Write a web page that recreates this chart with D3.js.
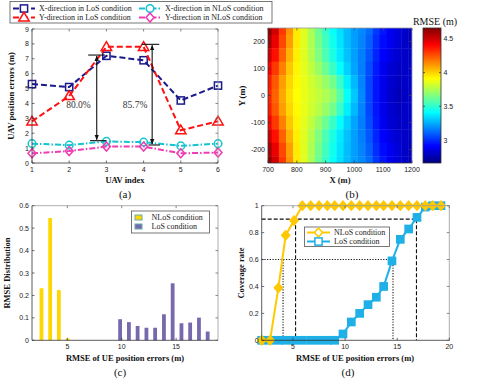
<!DOCTYPE html>
<html>
<head>
<meta charset="utf-8">
<script src="https://cdn.jsdelivr.net/npm/d3@7.9.0/dist/d3.min.js"></script>
<style>
  body { margin: 0; background: #fff; }
  svg { display: block; }
</style>
</head>
<body>
<svg id="fig" width="477" height="381"></svg>
<script>
// ---- (a) UAV position errors per UAV ----
const uavIndex = [1, 2, 3, 4, 5, 6];
const xLos = [5.3, 5.1, 7.2, 6.9, 4.2, 5.2];
const yLos = [2.8, 4.5, 7.8, 7.8, 2.2, 2.8];
const xNlos = [1.3, 1.2, 1.45, 1.4, 1.15, 1.3];
const yNlos = [0.65, 0.8, 1.1, 1.1, 0.65, 0.7];
const gapLabels = ['80.0%', '85.7%'];

// ---- (b) RMSE map over the area ----
const heatX = [700, 725, 750, 775, 800, 825, 850, 875, 900, 925, 950, 975, 1000, 1025, 1050, 1075, 1100, 1125, 1150, 1175, 1200];
const heatY = [250, 200, 150, 100, 50, 0, -50, -100, -150, -200, -250];
const heatRmse = [
  [4.62, 4.50, 4.30, 4.12, 3.95, 3.85, 3.75, 3.62, 3.52, 3.42, 3.35, 3.28, 3.22, 3.18, 3.12, 3.02, 2.95, 2.88, 2.84, 2.80, 2.78],
  [4.58, 4.45, 4.27, 4.10, 3.95, 3.85, 3.75, 3.64, 3.54, 3.44, 3.36, 3.28, 3.22, 3.17, 3.10, 3.00, 2.93, 2.88, 2.84, 2.80, 2.78],
  [4.50, 4.38, 4.22, 4.06, 3.94, 3.85, 3.76, 3.66, 3.56, 3.46, 3.37, 3.29, 3.22, 3.16, 3.08, 2.98, 2.91, 2.86, 2.82, 2.80, 2.80],
  [4.42, 4.30, 4.16, 4.02, 3.93, 3.86, 3.79, 3.71, 3.62, 3.52, 3.42, 3.32, 3.23, 3.16, 3.06, 2.96, 2.88, 2.83, 2.80, 2.80, 2.82],
  [4.36, 4.24, 4.10, 3.99, 3.92, 3.87, 3.82, 3.77, 3.71, 3.64, 3.52, 3.38, 3.27, 3.17, 3.05, 2.95, 2.87, 2.82, 2.79, 2.80, 2.82],
  [4.34, 4.22, 4.08, 3.97, 3.91, 3.87, 3.83, 3.79, 3.75, 3.70, 3.58, 3.42, 3.30, 3.18, 3.05, 2.95, 2.87, 2.81, 2.78, 2.79, 2.81],
  [4.36, 4.24, 4.10, 3.99, 3.92, 3.87, 3.82, 3.77, 3.71, 3.64, 3.52, 3.38, 3.27, 3.17, 3.05, 2.95, 2.87, 2.82, 2.79, 2.80, 2.82],
  [4.42, 4.30, 4.16, 4.02, 3.93, 3.86, 3.79, 3.71, 3.62, 3.52, 3.42, 3.32, 3.23, 3.16, 3.06, 2.96, 2.88, 2.83, 2.80, 2.80, 2.82],
  [4.50, 4.38, 4.22, 4.06, 3.94, 3.85, 3.76, 3.66, 3.56, 3.46, 3.37, 3.29, 3.22, 3.16, 3.08, 2.98, 2.91, 2.86, 2.82, 2.80, 2.80],
  [4.58, 4.45, 4.27, 4.10, 3.95, 3.85, 3.75, 3.64, 3.54, 3.44, 3.36, 3.28, 3.22, 3.17, 3.10, 3.00, 2.93, 2.88, 2.84, 2.80, 2.78],
  [4.62, 4.50, 4.30, 4.12, 3.95, 3.85, 3.75, 3.62, 3.52, 3.42, 3.35, 3.28, 3.22, 3.18, 3.12, 3.02, 2.95, 2.88, 2.84, 2.80, 2.78]
];
const cbTicks = [3, 3.5, 4, 4.5];

// ---- (c) RMSE distribution ----
const nlosBins = [2.62, 3.42, 4.22, 5.02];
const nlosDist = [0.232, 0.545, 0.224, 0.008];
const losBins = [9.85, 10.66, 11.46, 12.27, 13.07, 13.88, 14.68, 15.49, 16.29, 17.1, 17.9];
const losDist = [0.094, 0.081, 0.064, 0.056, 0.056, 0.116, 0.254, 0.076, 0.079, 0.101, 0.039];

// ---- (d) coverage rate ----
const coverX = [2.0, 2.8, 3.6, 4.3, 5.1, 5.9, 6.7, 7.5, 8.3, 9.0, 9.8, 10.6, 11.4, 12.2, 13.0, 13.7, 14.5, 15.3, 16.1, 16.9, 17.7, 18.4, 19.2];
const coverNlos = [0, 0, 0.39, 0.78, 0.89, 1, 1, 1, 1, 1, 1, 1, 1, 1, 1, 1, 1, 1, 1, 1, 1, 1, 1];
const coverLos = [0, 0, 0, 0, 0, 0, 0, 0, 0, 0, 0.047, 0.136, 0.2, 0.265, 0.32, 0.4, 0.59, 0.75, 0.827, 0.913, 0.99, 1, 1];
const guide90 = [5.25, 16.85];
const guide60 = [4.05, 14.6];

const svg = d3.select('#fig');
const SANS = 'Liberation Sans, Arial, sans-serif';
const SERIF = 'Liberation Serif, Times New Roman, serif';

// matlab-like box with inward ticks on all sides
function frame(g, x, y, xt, yt, fmtX, fmtY) {
  const [x0, x1] = x.range();
  const [y0, y1] = y.range();
  const ax = g.append('g');
  ax.append('line').attr('x1', x0).attr('x2', x1).attr('y1', y1).attr('y2', y1).attr('stroke', '#999').attr('stroke-width', 0.8);
  ax.append('line').attr('x1', x1).attr('x2', x1).attr('y1', y0).attr('y2', y1).attr('stroke', '#999').attr('stroke-width', 0.8);
  ax.append('line').attr('x1', x0).attr('x2', x1).attr('y1', y0).attr('y2', y0).attr('stroke', '#333').attr('stroke-width', 0.8);
  ax.append('line').attr('x1', x0).attr('x2', x0).attr('y1', y0).attr('y2', y1).attr('stroke', '#333').attr('stroke-width', 0.8);
  xt.forEach(v => {
    const px = x(v);
    ax.append('line').attr('x1', px).attr('x2', px).attr('y1', y0).attr('y2', y0 - 2.5).attr('stroke', '#333').attr('stroke-width', 0.7);
    ax.append('line').attr('x1', px).attr('x2', px).attr('y1', y1).attr('y2', y1 + 2.5).attr('stroke', '#555').attr('stroke-width', 0.7);
    ax.append('text').attr('x', px).attr('y', y0 + 9).attr('text-anchor', 'middle')
      .attr('font-family', SANS).attr('font-size', 7).attr('fill', '#222').text(fmtX(v));
  });
  yt.forEach(v => {
    const py = y(v);
    ax.append('line').attr('x1', x0).attr('x2', x0 + 2.5).attr('y1', py).attr('y2', py).attr('stroke', '#333').attr('stroke-width', 0.7);
    ax.append('line').attr('x1', x1).attr('x2', x1 - 2.5).attr('y1', py).attr('y2', py).attr('stroke', '#555').attr('stroke-width', 0.7);
    ax.append('text').attr('x', x0 - 3).attr('y', py + 2.5).attr('text-anchor', 'end')
      .attr('font-family', SANS).attr('font-size', 7).attr('fill', '#222').text(fmtY(v));
  });
}

function label(txt, x, y, size, bold, rotate) {
  const t = svg.append('text').attr('font-family', SERIF).attr('font-size', size)
    .attr('font-weight', bold ? 'bold' : 'normal').attr('fill', '#111').attr('text-anchor', 'middle').text(txt);
  if (rotate) t.attr('transform', `translate(${x},${y}) rotate(-90)`);
  else t.attr('x', x).attr('y', y);
  return t;
}

// marker shapes
function marker(g, kind, cx, cy, color, fill) {
  const f = fill || 'none';
  if (kind === 'square') {
    g.append('rect').attr('x', cx - 3.6).attr('y', cy - 3.6).attr('width', 7.2).attr('height', 7.2)
      .attr('fill', f).attr('stroke', color).attr('stroke-width', 1.5);
  } else if (kind === 'triangle') {
    g.append('path').attr('d', `M${cx},${cy - 5.2}L${cx + 5.2},${cy + 3.6}L${cx - 5.2},${cy + 3.6}Z`)
      .attr('fill', f).attr('stroke', color).attr('stroke-width', 1.5);
  } else if (kind === 'circle') {
    g.append('circle').attr('cx', cx).attr('cy', cy).attr('r', 3.8)
      .attr('fill', f).attr('stroke', color).attr('stroke-width', 1.5);
  } else if (kind === 'diamond') {
    g.append('path').attr('d', `M${cx},${cy - 4.5}L${cx + 4},${cy}L${cx},${cy + 4.5}L${cx - 4},${cy}Z`)
      .attr('fill', f).attr('stroke', color).attr('stroke-width', 1.5);
  }
}

// ================= panel (a) =================
{
  const x = d3.scaleLinear([1, 6], [32, 218]);
  const y = d3.scaleLinear([0, 9], [163, 29]);
  const g = svg.append('g');

  const series = [
    { vals: xLos, color: '#1a1a8c', kind: 'square', dash: '6,3' },
    { vals: yLos, color: '#ff1010', kind: 'triangle', dash: '6,3' },
    { vals: xNlos, color: '#14c4d0', kind: 'circle', dash: '6,2,1.5,2' },
    { vals: yNlos, color: '#f03cb4', kind: 'diamond', dash: '6,2,1.5,2' }
  ];
  const line = d3.line().x((d, i) => x(uavIndex[i])).y(d => y(d));
  series.forEach(s => {
    g.append('path').attr('d', line(s.vals)).attr('fill', 'none').attr('stroke', s.color)
      .attr('stroke-width', 2).attr('stroke-dasharray', s.dash);
    s.vals.forEach((v, i) => marker(g, s.kind, x(uavIndex[i]), y(v), s.color));
  });

  // gap arrows between LoS and NLoS
  svg.append('defs').html(
    '<marker id="ah" viewBox="0 0 10 10" refX="9" refY="5" markerWidth="5" markerHeight="7" orient="auto-start-reverse">' +
    '<path d="M0,1L10,5L0,9Z" fill="#111"/></marker>');
  const arrows = [
    { at: 2.74, top: 7.25, bot: 1.5, capTop: [2.51, 2.96], capBot: [2.56, 3.0], lx: 2.25 },
    { at: 4.23, top: 7.97, bot: 1.21, capTop: [3.95, 4.42], capBot: [4.13, 4.44], lx: 3.77 }
  ];
  arrows.forEach((a, i) => {
    g.append('line').attr('x1', x(a.at)).attr('x2', x(a.at)).attr('y1', y(a.top) + 1).attr('y2', y(a.bot) - 1)
      .attr('stroke', '#111').attr('stroke-width', 1.1)
      .attr('marker-start', 'url(#ah)').attr('marker-end', 'url(#ah)');
    g.append('line').attr('x1', x(a.capTop[0])).attr('x2', x(a.capTop[1])).attr('y1', y(a.top)).attr('y2', y(a.top))
      .attr('stroke', '#111').attr('stroke-width', 1.1);
    g.append('line').attr('x1', x(a.capBot[0])).attr('x2', x(a.capBot[1])).attr('y1', y(a.bot)).attr('y2', y(a.bot))
      .attr('stroke', '#111').attr('stroke-width', 1.1);
    g.append('text').attr('x', x(a.lx)).attr('y', y(3.7)).attr('text-anchor', 'middle')
      .attr('font-family', SERIF).attr('font-size', 9.5).attr('fill', '#333').text(gapLabels[i]);
  });

  frame(g, x, y, uavIndex, d3.range(0, 10), d => d, d => d);

  // legend
  const lg = svg.append('g');
  lg.append('rect').attr('x', 10).attr('y', 1.5).attr('width', 262).attr('height', 21.5)
    .attr('fill', '#fff').attr('stroke', '#555').attr('stroke-width', 0.8);
  const items = [
    { s: series[0], text: 'X-direction in LoS condition', lx: 13, ly: 8.5 },
    { s: series[1], text: 'Y-direction in LoS condition', lx: 13, ly: 17.5 },
    { s: series[2], text: 'X-direction in NLoS condition', lx: 139, ly: 8.5 },
    { s: series[3], text: 'Y-direction in NLoS condition', lx: 139, ly: 17.5 }
  ];
  items.forEach(it => {
    lg.append('line').attr('x1', it.lx).attr('x2', it.lx + 22).attr('y1', it.ly).attr('y2', it.ly)
      .attr('stroke', it.s.color).attr('stroke-width', 1.8).attr('stroke-dasharray', it.s.dash);
    marker(lg, it.s.kind, it.lx + 11, it.ly, it.s.color, '#fff');
    lg.append('text').attr('x', it.lx + 26).attr('y', it.ly + 2.8).attr('font-family', SERIF)
      .attr('font-size', 8).attr('fill', '#222').text(it.text);
  });

  label('UAV position errors (m)', 14, 96, 8.5, true, true);
  label('UAV index', 125, 183, 8.5, true);
  label('(a)', 125, 198, 11, false);
}

// ================= panel (b) =================
{
  const x = d3.scaleLinear([700, 1200], [268, 412]);
  const y = d3.scaleLinear([-250, 250], [163, 28]);
  const cMin = 2.66, cMax = 4.66;
  const jetStops = [0, 0.125, 0.375, 0.625, 0.875, 1];
  const color = d3.scaleLinear()
    .domain(jetStops.map(t => cMin + t * (cMax - cMin)))
    .range(['#00007f', '#0000ff', '#00ffff', '#ffff00', '#ff0000', '#7f0000'])
    .clamp(true);

  svg.append('clipPath').attr('id', 'clipB').append('rect')
    .attr('x', 268).attr('y', 28).attr('width', 144).attr('height', 135);
  const g = svg.append('g');
  const cells = g.append('g').attr('clip-path', 'url(#clipB)');
  const dx = 25, dy = 50;
  heatRmse.forEach((row, r) => {
    row.forEach((v, c) => {
      const xa = x(heatX[c] - dx / 2), xb = x(heatX[c] + dx / 2);
      const ya = y(heatY[r] + dy / 2), yb = y(heatY[r] - dy / 2);
      cells.append('rect').attr('x', xa).attr('y', ya).attr('width', xb - xa + 0.4).attr('height', yb - ya + 0.4)
        .attr('fill', color(v));
    });
  });

  frame(g, x, y, [700, 800, 900, 1000, 1100, 1200], [-200, -100, 0, 100, 200], d => d, d => d);

  // colorbar
  const cy = d3.scaleLinear([cMin, cMax], [163, 28]);
  const grad = svg.append('defs').append('linearGradient').attr('id', 'jet')
    .attr('x1', 0).attr('x2', 0).attr('y1', 1).attr('y2', 0);
  jetStops.forEach((t, i) => grad.append('stop').attr('offset', t).attr('stop-color', color.range()[i]));
  g.append('rect').attr('x', 423).attr('y', 28).attr('width', 18).attr('height', 135)
    .attr('fill', 'url(#jet)').attr('stroke', '#333').attr('stroke-width', 0.8);
  cbTicks.forEach(v => {
    g.append('line').attr('x1', 423).attr('x2', 425).attr('y1', cy(v)).attr('y2', cy(v)).attr('stroke', '#333').attr('stroke-width', 0.7);
    g.append('line').attr('x1', 441).attr('x2', 439).attr('y1', cy(v)).attr('y2', cy(v)).attr('stroke', '#333').attr('stroke-width', 0.7);
    g.append('text').attr('x', 443.5).attr('y', cy(v) + 2.5).attr('font-family', SANS).attr('font-size', 7)
      .attr('fill', '#222').text(v);
  });
  label('RMSE (m)', 435, 25, 10, false);

  label('X (m)', 340, 183, 8.5, true);
  label('Y (m)', 245, 96, 8.5, true, true);
  label('(b)', 352, 198, 11, false);
}

// ================= panel (c) =================
{
  const x = d3.scaleLinear([1.75, 18.85], [32, 218]);
  const y = d3.scaleLinear([0, 0.6], [340.3, 205.7]);
  const g = svg.append('g');
  const bw = 3.8;
  const yellow = '#ffd700', purple = '#7868ad';
  nlosBins.forEach((b, i) => {
    g.append('rect').attr('x', x(b) - bw / 2).attr('y', y(nlosDist[i])).attr('width', bw)
      .attr('height', y(0) - y(nlosDist[i])).attr('fill', yellow);
  });
  losBins.forEach((b, i) => {
    g.append('rect').attr('x', x(b) - bw / 2).attr('y', y(losDist[i])).attr('width', bw)
      .attr('height', y(0) - y(losDist[i])).attr('fill', purple);
  });
  frame(g, x, y, [5, 10, 15], [0, 0.1, 0.2, 0.3, 0.4, 0.5, 0.6], d => d, d => d);

  const lg = svg.append('g');
  lg.append('rect').attr('x', 131.5).attr('y', 211).attr('width', 78).attr('height', 22)
    .attr('fill', '#fff').attr('stroke', '#555').attr('stroke-width', 0.8);
  [[yellow, 'NLoS condition', 217.5], [purple, 'LoS condition', 226.5]].forEach(([c, t, ly]) => {
    lg.append('rect').attr('x', 135).attr('y', ly - 2.5).attr('width', 7).attr('height', 5).attr('fill', c)
      .attr('stroke', '#6aa', 'stroke-width', 0.5);
    lg.append('text').attr('x', 151.5).attr('y', ly + 2.8).attr('font-family', SERIF).attr('font-size', 8)
      .attr('fill', '#222').text(t);
  });

  label('RMSE Distribution', 10, 273, 8.5, true, true);
  label('RMSE of UE position errors (m)', 125, 361, 8.5, true);
  label('(c)', 120, 376, 11, false);
}

// ================= panel (d) =================
{
  const x = d3.scaleLinear([2, 20], [261.7, 449.3]);
  const y = d3.scaleLinear([0, 1], [340.3, 205.7]);
  const g = svg.append('g');
  const gold = '#ffc800', sky = '#1eb0e6';

  // guide lines
  const dashed = { stroke: '#111', w: 1.1, dash: '4,2' };
  const dotted = { stroke: '#111', w: 1.1, dash: '1.2,1.5' };
  [[guide90, 0.9, dashed], [guide60, 0.6, dotted]].forEach(([xs, lvl, st]) => {
    g.append('line').attr('x1', x(2)).attr('x2', x(xs[1])).attr('y1', y(lvl)).attr('y2', y(lvl))
      .attr('stroke', st.stroke).attr('stroke-width', st.w).attr('stroke-dasharray', st.dash);
    xs.forEach(v => g.append('line').attr('x1', x(v)).attr('x2', x(v)).attr('y1', y(lvl)).attr('y2', y(0))
      .attr('stroke', st.stroke).attr('stroke-width', st.w).attr('stroke-dasharray', st.dash));
  });

  const line = d3.line().x((d, i) => x(coverX[i])).y(d => y(d));
  g.append('path').attr('d', line(coverLos)).attr('fill', 'none').attr('stroke', sky).attr('stroke-width', 2);
  coverLos.forEach((v, i) => marker(g, 'square', x(coverX[i]), y(v), sky, sky));
  g.append('path').attr('d', line(coverNlos)).attr('fill', 'none').attr('stroke', gold).attr('stroke-width', 2);
  coverNlos.forEach((v, i) => marker(g, 'diamond', x(coverX[i]), y(v), gold, gold));

  frame(g, x, y, [5, 10, 15, 20], [0, 0.2, 0.4, 0.6, 0.8, 1], d => d, d => d);

  const lg = svg.append('g');
  lg.append('rect').attr('x', 304.5).attr('y', 227).attr('width', 85).attr('height', 19.5)
    .attr('fill', '#fff').attr('stroke', '#555').attr('stroke-width', 0.8);
  [[gold, 'diamond', 'NLoS condition', 232.5], [sky, 'square', 'LoS condition', 241.5]].forEach(([c, k, t, ly]) => {
    lg.append('line').attr('x1', 307).attr('x2', 330).attr('y1', ly).attr('y2', ly).attr('stroke', c).attr('stroke-width', 2);
    marker(lg, k, 318.5, ly, c, '#fff');
    lg.append('text').attr('x', 334).attr('y', ly + 2.8).attr('font-family', SERIF).attr('font-size', 8)
      .attr('fill', '#222').text(t);
  });

  label('Coverage rate', 244, 273, 8.5, true, true);
  label('RMSE of UE position errors (m)', 355, 361, 8.5, true);
  label('(d)', 348, 376, 11, false);
}
</script>
</body>
</html>
